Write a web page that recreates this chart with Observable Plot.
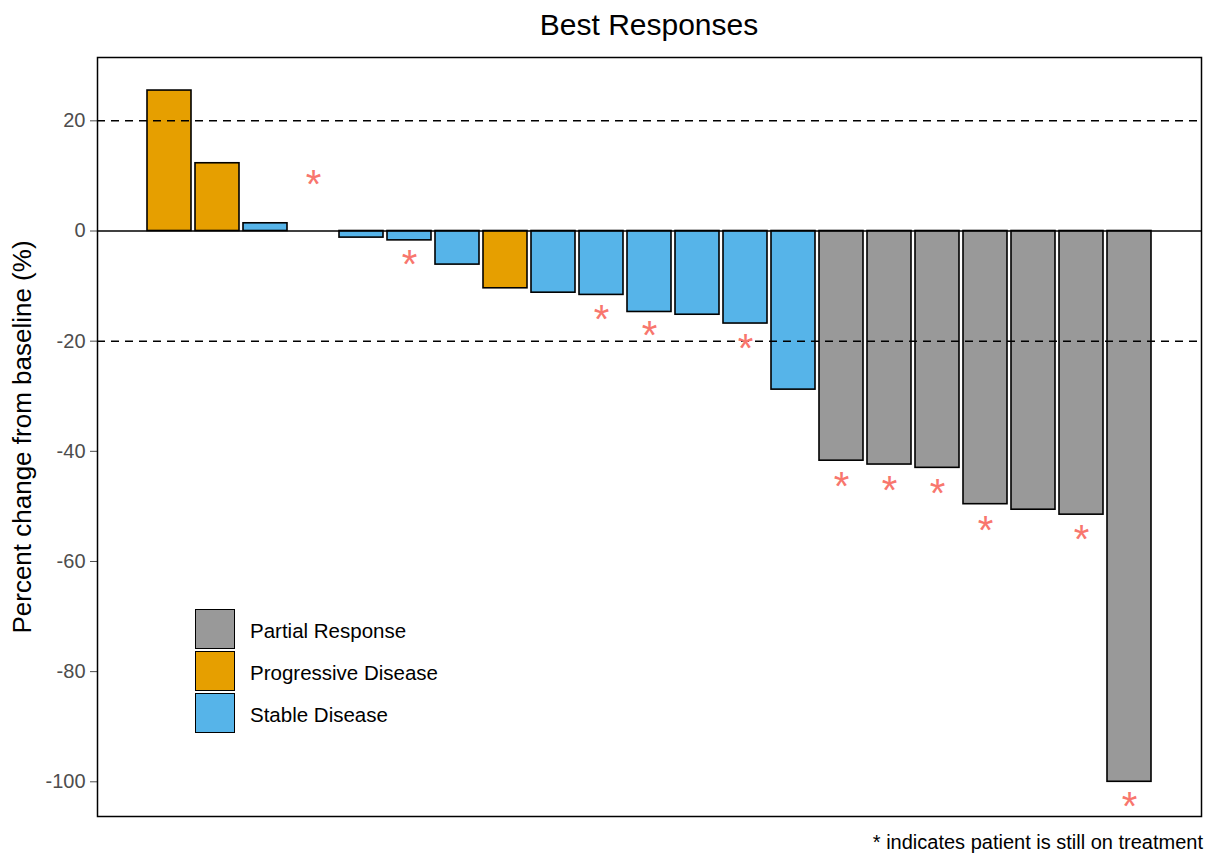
<!DOCTYPE html>
<html>
<head>
<meta charset="utf-8">
<script src="https://cdn.jsdelivr.net/npm/d3@7"></script>
<script src="https://cdn.jsdelivr.net/npm/@observablehq/plot@0.6"></script>
<style>
  html, body { margin: 0; padding: 0; background: #fff; }
  body { font-family: "Liberation Sans", Arial, sans-serif; }
  #wrap { position: relative; width: 1207px; height: 856px; overflow: hidden; }
  #title { height: 50px; line-height: 50px; padding-left: 97px; padding-right: 6px; text-align: center; font-size: 30px; color: #000; }
  #chart svg { display: block; }
  #caption { position: absolute; right: 4px; top: 829px; font-size: 20px; line-height: 26px; color: #000; }
  #legend { position: absolute; left: 195px; top: 609px; }
  .row { display: flex; align-items: center; height: 40px; margin-bottom: 2px; }
  .sw { box-sizing: border-box; width: 40px; height: 40px; border: 1.6px solid #000; margin-right: 15px; }
  .lab { font-size: 20.5px; color: #000; padding-top: 3px; }
</style>
</head>
<body>
<div id="wrap">
  <div id="title">Best Responses</div>
  <div id="chart"></div>
  <div id="legend"></div>
  <div id="caption">* indicates patient is still on treatment</div>
</div>
<script>
// ---- data ----
const patientIds = ["1","2","3","4","5","6","7","8","9","10","11","12","13","14","15","16","17","18","19","20","21"];
const responses = [
  "Progressive Disease","Progressive Disease","Stable Disease",null,"Stable Disease","Stable Disease","Stable Disease",
  "Progressive Disease","Stable Disease","Stable Disease","Stable Disease","Stable Disease","Stable Disease","Stable Disease",
  "Partial Response","Partial Response","Partial Response","Partial Response","Partial Response","Partial Response","Partial Response"
];
const pctChange = [25.5, 12.3, 1.4, null, -1.2, -1.7, -6.1, -10.4, -11.2, -11.6, -14.7, -15.2, -16.8, -28.8,
                   -41.7, -42.4, -43.0, -49.6, -50.6, -51.5, -100];
const onTreatmentIds = ["4","6","10","11","13","15","16","17","18","20","21"];
const starPos = [9.5, -5.0, -15.0, -17.9, -20.2, -45.2, -46.0, -46.5, -53.3, -54.8, -103.4];
const responseCats = ["Partial Response","Progressive Disease","Stable Disease"];
const responseColors = ["#999999","#E69F00","#56B4E9"];
const yTicks = [20, 0, -20, -40, -60, -80, -100];
const refLines = [20, -20];
const yLabel = "Percent change from baseline (%)";

// ---- build tables ----
const bars = patientIds.map((id, i) => ({id, response: responses[i], change: pctChange[i]}))
  .filter(d => d.change != null);
const stars = onTreatmentIds.map((id, i) => ({id, y: starPos[i]}));

const chart = Plot.plot({
  width: 1207,
  height: 780,
  marginTop: 7,
  marginBottom: 14,
  marginLeft: 97,
  marginRight: 6,
  style: {fontFamily: '"Liberation Sans", Arial, sans-serif', background: "white"},
  x: {type: "band", domain: patientIds, paddingInner: 0.09, paddingOuter: 1.02, axis: null},
  y: {domain: [-106.3, 31.5], axis: null},
  color: {domain: responseCats, range: responseColors},
  marks: [
    Plot.barY(bars, {x: "id", y: "change", fill: "response", stroke: "black", strokeWidth: 1.6}),
    Plot.ruleY([0], {stroke: "black", strokeWidth: 1.5}),
    Plot.ruleY(refLines, {stroke: "black", strokeWidth: 1.5, strokeDasharray: "8,6"}),
    Plot.text(stars, {x: "id", y: "y", text: () => "*", fill: "#F8766D", fontSize: 40, dy: 7}),
    Plot.axisY({ticks: yTicks, tickSize: 7, tickPadding: 5, fontSize: 20, label: null, color: "#4D4D4D", tickFormat: d => String(d)}),
    Plot.frame({stroke: "black", strokeWidth: 1.5}),
    Plot.text([yLabel], {frameAnchor: "left", textAnchor: "middle", rotate: -90, dx: -75, fontSize: 26, fill: "black"})
  ]
});
document.getElementById("chart").appendChild(chart);

// ---- legend ----
const legend = document.getElementById("legend");
responseCats.forEach((c, i) => {
  const row = document.createElement("div");
  row.className = "row";
  const sw = document.createElement("div");
  sw.className = "sw";
  sw.style.background = responseColors[i];
  const lab = document.createElement("div");
  lab.className = "lab";
  lab.textContent = c;
  row.appendChild(sw);
  row.appendChild(lab);
  legend.appendChild(row);
});
</script>
</body>
</html>
